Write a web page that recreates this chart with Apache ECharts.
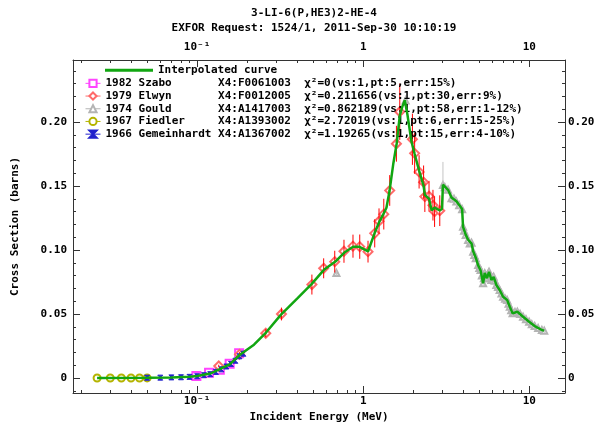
<!DOCTYPE html>
<html><head><meta charset="utf-8">
<script src="https://cdn.jsdelivr.net/npm/echarts@6/dist/echarts.min.js"></script>
<style>html,body{margin:0;padding:0;background:#fff}#c{width:600px;height:425px}</style>
</head><body><div id="c"></div>
<script>
// ---------- text ----------
const titleLine1 = '3-LI-6(P,HE3)2-HE-4';
const titleLine2 = 'EXFOR Request: 1524/1, 2011-Sep-30 10:10:19';
const xAxisName = 'Incident Energy (MeV)';
const yAxisName = 'Cross Section (barns)';
const curveName = 'Interpolated curve';
const seriesNames = ['1982 Szabo', '1979 Elwyn', '1974 Gould', '1967 Fiedler', '1966 Gemeinhardt'];
const x4Ids = ['X4:F0061003', 'X4:F0012005', 'X4:A1417003', 'X4:A1393002', 'X4:A1367002'];
const chiTexts = ['χ²=0(vs:1,pt:5,err:15%)', 'χ²=0.211656(vs:1,pt:30,err:9%)', 'χ²=0.862189(vs:1,pt:58,err:1-12%)',
                  'χ²=2.72019(vs:1,pt:6,err:15-25%)', 'χ²=1.19265(vs:1,pt:15,err:4-10%)'];

// ---------- ticks ----------
const xMajorTicks = [0.1, 1, 10];
const xMajorLabels = ['10⁻¹', '1', '10'];
const xMinorTicks = [0.02,0.03,0.04,0.05,0.06,0.07,0.08,0.09,0.2,0.3,0.4,0.5,0.6,0.7,0.8,0.9,2,3,4,5,6,7,8,9];
const yMajorTicks = [0, 0.05, 0.10, 0.15, 0.20];
const yMajorLabels = ['0', '0.05', '0.10', '0.15', '0.20'];
const yMinorTicks = [-0.01,0.01,0.02,0.03,0.04,0.06,0.07,0.08,0.09,0.11,0.12,0.13,0.14,0.16,0.17,0.18,0.19,0.21,0.22,0.23,0.24];
const xRange = [0.0179, 16.4];
const yRange = [-0.0117, 0.2484];

// ---------- data ----------
const szaboE = [0.099, 0.118, 0.137, 0.157, 0.179];
const szaboS = [0.0016, 0.0042, 0.0065, 0.0112, 0.0193];

const elwynE = [0.135,0.180,0.259,0.322,0.491,0.578,0.674,0.766,0.868,0.953,1.069,1.173,1.245,1.33,1.444,1.585,1.660,1.978,2.040,2.170,2.310,2.350,2.490,2.630,2.690,2.890];
const elwynS = [0.0094,0.0185,0.0350,0.0500,0.0730,0.0857,0.0909,0.0990,0.1030,0.1026,0.0987,0.1130,0.1225,0.1280,0.1465,0.1830,0.2080,0.1865,0.1755,0.1610,0.1530,0.1417,0.1420,0.1350,0.1300,0.1307];
const elwynErr = [0.0010,0.0017,0.0032,0.0050,0.0078,0.0078,0.0085,0.0090,0.0090,0.0095,0.0085,0.0110,0.0100,0.0120,0.0120,0.0140,0.0220,0.0200,0.0160,0.0130,0.0130,0.0120,0.0120,0.0120,0.0120,0.0120];

const gouldE = [0.69,1.80,3.02,3.10,3.24,3.40,3.52,3.64,3.78,3.94,3.99,4.05,4.14,4.28,4.38,4.49,4.59,4.67,4.76,4.92,5.00,5.09,5.18,5.27,5.33,5.39,5.47,5.56,5.64,5.72,5.81,5.91,6.00,6.10,6.20,6.33,6.48,6.63,6.80,6.95,7.15,7.35,7.50,7.63,7.78,7.93,8.20,8.47,8.80,9.17,9.55,9.97,10.35,10.77,11.3,11.9,12.3];
const gouldS = [0.0820,0.2167,0.1508,0.1490,0.1470,0.1404,0.1400,0.1378,0.1350,0.1318,0.1182,0.1150,0.1117,0.1078,0.1050,0.1057,0.0987,0.0960,0.0935,0.0883,0.0860,0.0844,0.0800,0.0740,0.0780,0.0818,0.0800,0.0779,0.0810,0.0830,0.0790,0.0766,0.0780,0.0791,0.0760,0.0727,0.0710,0.0688,0.0660,0.0635,0.0620,0.0609,0.0580,0.0557,0.0530,0.0505,0.0515,0.0518,0.0500,0.0479,0.0460,0.0440,0.0420,0.0406,0.0390,0.0375,0.0370];
const gouldErr = [0.002,0.004,0.018,0.003,0.003,0.003,0.003,0.003,0.003,0.003,0.003,0.003,0.003,0.003,0.002,0.002,0.002,0.002,0.002,0.002,0.002,0.002,0.002,0.002,0.002,0.002,0.002,0.002,0.002,0.002,0.002,0.002,0.002,0.002,0.002,0.002,0.002,0.002,0.002,0.002,0.002,0.002,0.002,0.002,0.002,0.002,0.002,0.002,0.002,0.002,0.002,0.002,0.002,0.002,0.002,0.002,0.002];

const fiedlerE = [0.025, 0.030, 0.035, 0.040, 0.045, 0.050];
const fiedlerS = [0.00001, 0.00001, 0.00002, 0.00003, 0.00005, 0.00008];

const gemE = [0.05,0.06,0.07,0.08,0.09,0.10,0.11,0.12,0.13,0.14,0.15,0.16,0.17,0.18,0.19];
const gemS = [0.0002,0.0003,0.0005,0.0006,0.0009,0.0014,0.0022,0.0030,0.0048,0.0068,0.0090,0.0110,0.0135,0.0170,0.0190];

const curveE = [0.025,0.05,0.07,0.09,0.10,0.12,0.135,0.157,0.18,0.22,0.26,0.32,0.40,0.49,0.58,0.68,0.77,0.87,0.95,1.07,1.17,1.25,1.31,1.38,1.44,1.52,1.59,1.66,1.72,1.78,1.85,1.95,2.04,2.17,2.31,2.35,2.49,2.58,2.69,2.89,2.98,3.02,3.24,3.40,3.64,3.94,3.99,4.14,4.28,4.49,4.59,4.76,4.92,5.09,5.27,5.39,5.56,5.72,5.91,6.10,6.33,6.63,6.95,7.35,7.63,7.93,8.47,9.17,9.97,10.77,11.9,12.3];
const curveS = [0.0,0.0002,0.0005,0.0010,0.0015,0.0035,0.0065,0.0107,0.0180,0.0260,0.0355,0.0495,0.0620,0.0735,0.0845,0.0910,0.0980,0.1025,0.1025,0.0990,0.1130,0.1220,0.1270,0.1330,0.1460,0.1680,0.1830,0.2050,0.2120,0.2170,0.2050,0.1850,0.1750,0.1620,0.1500,0.1430,0.1400,0.1310,0.1330,0.1310,0.1320,0.1510,0.1470,0.1410,0.1380,0.1320,0.1180,0.1120,0.1080,0.1050,0.0990,0.0940,0.0880,0.0840,0.0740,0.0820,0.0780,0.0830,0.0766,0.0790,0.0727,0.0688,0.0635,0.0610,0.0557,0.0505,0.0518,0.0479,0.0440,0.0406,0.0375,0.0370];

// ---------- style ----------
const FONT = 'DejaVu Sans Mono';
const AX = '#333';
const colors = ['#ff44ff', '#ff6a6a', '#b4b4b4', '#b4b400', '#2222cc'];
const symbols = ['emptyRect', 'emptyDiamond', 'emptyTriangle', 'emptyCircle', 'path://M0,0L10,0L0,10L10,10Z'];
const symbolSizes = [8, 9, 6, 7, 5];
const zip = (a, b) => a.map((v, i) => [v, b[i]]);
const zipErr = (a, b, e) => a.map((v, i) => [v, b[i] - e[i], b[i] + e[i]]);
const lg = v => Math.log10(v);
const txt = {fontFamily: FONT, fontWeight: 'bold', fontSize: 11, color: '#000'};

const legendText = {};
seriesNames.forEach((n, i) => { legendText[n] = n.padEnd(17, ' ') + x4Ids[i] + '  ' + chiTexts[i]; });

function xLabel(v) { const k = xMajorTicks.findIndex(t => Math.abs(lg(t) - v) < 1e-6); return k >= 0 ? xMajorLabels[k] : ''; }
function yLabel(v) { const k = yMajorTicks.findIndex(t => Math.abs(t - v) < 1e-9); return k >= 0 ? yMajorLabels[k] : ''; }

function xDeco(pos, major, withName) {
  return {
    type: 'value', position: pos, min: lg(xRange[0]), max: lg(xRange[1]),
    axisLine: {show: major, onZero: false, lineStyle: {color: AX, width: 1}},
    splitLine: {show: false},
    axisTick: {show: true, inside: true, length: major ? 7 : 3, lineStyle: {color: AX},
      customValues: (major ? xMajorTicks : xMinorTicks).map(lg)},
    axisLabel: {show: major, margin: pos === 'top' ? 7 : 3, customValues: xMajorTicks.map(lg), formatter: xLabel, ...txt},
    name: withName ? xAxisName : '', nameLocation: 'middle', nameGap: 10, nameTextStyle: txt
  };
}
function yDeco(pos, major, withName) {
  return {
    type: 'value', position: pos, min: yRange[0], max: yRange[1],
    axisLine: {show: major, onZero: false, lineStyle: {color: AX, width: 1}},
    splitLine: {show: false},
    axisTick: {show: true, inside: true, length: major ? 7 : 3, lineStyle: {color: AX},
      customValues: major ? yMajorTicks : yMinorTicks},
    axisLabel: {show: major, margin: pos === 'left' ? 6 : 3, customValues: yMajorTicks, formatter: yLabel, ...txt},
    name: withName ? yAxisName : '', nameLocation: 'middle', nameGap: 52, nameRotate: 90, nameTextStyle: txt
  };
}

function errRender(params, api) {
  const p1 = api.coord([api.value(0), api.value(1)]);
  const p2 = api.coord([api.value(0), api.value(2)]);
  return {type: 'line', shape: {x1: p1[0], y1: p1[1], x2: p2[0], y2: p2[1]},
          style: {stroke: api.visual('color'), lineWidth: 1}};
}

const dataSets = [zip(szaboE, szaboS), zip(elwynE, elwynS), zip(gouldE, gouldS), zip(fiedlerE, fiedlerS), zip(gemE, gemS)];

const series = [
  {type: 'custom', name: 'elwynErr', xAxisIndex: 0, yAxisIndex: 0, renderItem: errRender, z: 3,
   itemStyle: {color: '#ff0000'}, encode: {x: 0, y: [1, 2]}, data: zipErr(elwynE, elwynS, elwynErr)},
  {type: 'custom', name: 'gouldErr', xAxisIndex: 0, yAxisIndex: 0, renderItem: errRender, z: 3,
   itemStyle: {color: '#c4c4c4'}, encode: {x: 0, y: [1, 2]}, data: zipErr(gouldE, gouldS, gouldErr)},
  {type: 'line', name: curveName, xAxisIndex: 0, yAxisIndex: 0, data: zip(curveE, curveS), symbol: 'none',
   z: 5, color: '#11a611', lineStyle: {color: '#11a611', width: 2.5}}
];
seriesNames.forEach((n, i) => {
  series.push({type: 'line', name: n, xAxisIndex: 0, yAxisIndex: 0, data: dataSets[i],
    symbol: symbols[i], symbolSize: symbolSizes[i], showAllSymbol: true, z: 2, color: colors[i],
    itemStyle: {color: colors[i], borderColor: colors[i], borderWidth: 1},
    lineStyle: {opacity: 0}});
});

const chart = echarts.init(document.getElementById('c'), null, {renderer: 'canvas'});
chart.setOption({
  animation: false,
  backgroundColor: '#fff',
  grid: {left: 73, right: 35, top: 60, bottom: 32, containLabel: false, outerBoundsMode: 'none'},
  graphic: [
    {type: 'text', x: 314, y: 13, style: {text: titleLine1, align: 'center', verticalAlign: 'middle', font: 'bold 11px "DejaVu Sans Mono"', fill: '#000'}},
    {type: 'text', x: 314, y: 28, style: {text: titleLine2, align: 'center', verticalAlign: 'middle', font: 'bold 11px "DejaVu Sans Mono"', fill: '#000'}}
  ],
  legend: [
    {data: [{name: curveName, icon: 'rect'}], left: 105, top: 64, orient: 'vertical', padding: 0,
     itemWidth: 48, itemHeight: 3, selectedMode: false, textStyle: {...txt, lineHeight: 12.7}},
    {data: seriesNames, left: 85, top: 77, orient: 'vertical', padding: 0, itemGap: 0,
     itemWidth: 15, itemHeight: 9, selectedMode: false, formatter: n => legendText[n],
     lineStyle: {opacity: 1, width: 1}, textStyle: {...txt, lineHeight: 12.7}}
  ],
  xAxis: [
    {type: 'log', logBase: 10, min: xRange[0], max: xRange[1], show: false},
    xDeco('bottom', true, true), xDeco('bottom', false, false),
    xDeco('top', true, false), xDeco('top', false, false)
  ],
  yAxis: [
    yDeco('left', true, true), yDeco('left', false, false),
    yDeco('right', true, false), yDeco('right', false, false)
  ],
  series: series
});
</script></body></html>
